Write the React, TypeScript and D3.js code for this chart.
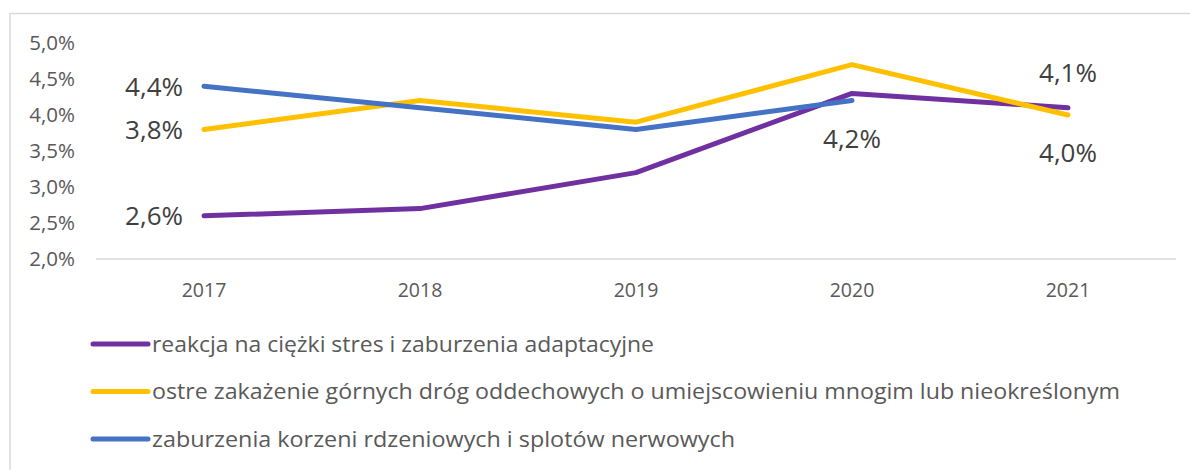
import React from "react";
import * as d3 from "d3";

const years = ["2017", "2018", "2019", "2020", "2021"];
const stres = [2.6, 2.7, 3.2, 4.3, 4.1];
const zakazenie = [3.8, 4.2, 3.9, 4.7, 4.0];
const korzenie: (number | null)[] = [4.4, 4.1, 3.8, 4.2, null];
const yTicks = [2.0, 2.5, 3.0, 3.5, 4.0, 4.5, 5.0];
const seriesNames = [
  "reakcja na ciężki stres i zaburzenia adaptacyjne",
  "ostre zakażenie górnych dróg oddechowych o umiejscowieniu mnogim lub nieokreślonym",
  "zaburzenia korzeni rdzeniowych i splotów nerwowych",
];
const colors = ["#7030A0", "#FFC000", "#4472C4"];
// labels: [seriesIndex, yearIndex, placement]
const labels: [number, number, string][] = [
  [2, 0, "left"],
  [1, 0, "left"],
  [0, 0, "left"],
  [2, 3, "below"],
  [0, 4, "above"],
  [1, 4, "below"],
];
const legendWidths = [502, 968, 583];

const fmt = (v: number) => v.toFixed(1).replace(".", ",") + "%";

export default function App() {
  const W = 1190, H = 470;
  const x = d3.scaleBand<string>().domain(years).range([96, 1176]);
  const y = d3.scaleLinear().domain([2, 5]).range([259, 43]);
  const cx = (yr: string) => (x(yr) as number) + x.bandwidth() / 2;
  const data = [stres, zakazenie, korzenie];
  const line = d3
    .line<number | null>()
    .defined((d) => d != null)
    .x((_, i) => cx(years[i]))
    .y((d) => y(d as number));
  const font = "'Open Sans', sans-serif";
  return (
    <svg width={W} height={H} style={{ position: "absolute", left: 0, top: 0, background: "#fff" }} fontFamily={font}>
      <rect x={10} y={13.5} width={1200} height={500} fill="#fff" stroke="#d9d9d9" strokeWidth={1.5} />
      <line x1={96} x2={1176} y1={259} y2={259} stroke="#d9d9d9" strokeWidth={1.5} />
      {yTicks.map((t) => (
        <text key={t} x={75} y={y(t)} dy="0.36em" textAnchor="end" fontSize={20.5} fill="#595959">
          {fmt(t)}
        </text>
      ))}
      {years.map((yr) => (
        <text key={yr} x={cx(yr)} y={290} dy="0.36em" textAnchor="middle" fontSize={19.5} fill="#595959">
          {yr}
        </text>
      ))}
      {data.map((s, i) => (
        <path key={i} d={line(s) || ""} fill="none" stroke={colors[i]} strokeWidth={5} strokeLinecap="round" strokeLinejoin="round" />
      ))}
      {labels.map(([si, yi, pos], k) => {
        const v = data[si][yi] as number;
        const px = cx(years[yi]);
        const py = y(v);
        let tx = px, ty = py, anchor = "middle";
        if (pos === "left") { tx = px - 21; anchor = "end"; }
        if (pos === "below") ty = py + 38;
        if (pos === "above") ty = py - 35;
        return (
          <text key={k} x={tx} y={ty} dy="0.36em" textAnchor={anchor} fontSize={26} fill="#404040">
            {fmt(v)}
          </text>
        );
      })}
      {seriesNames.map((n, i) => {
        const ly = 344 + i * 47.5;
        return (
          <g key={n}>
            <line x1={93} x2={148} y1={ly} y2={ly} stroke={colors[i]} strokeWidth={5} strokeLinecap="round" />
            <text x={152} y={ly} dy="0.36em" fontSize={21} fill="#595959" textLength={legendWidths[i]} lengthAdjust="spacingAndGlyphs">
              {n}
            </text>
          </g>
        );
      })}
    </svg>
  );
}
